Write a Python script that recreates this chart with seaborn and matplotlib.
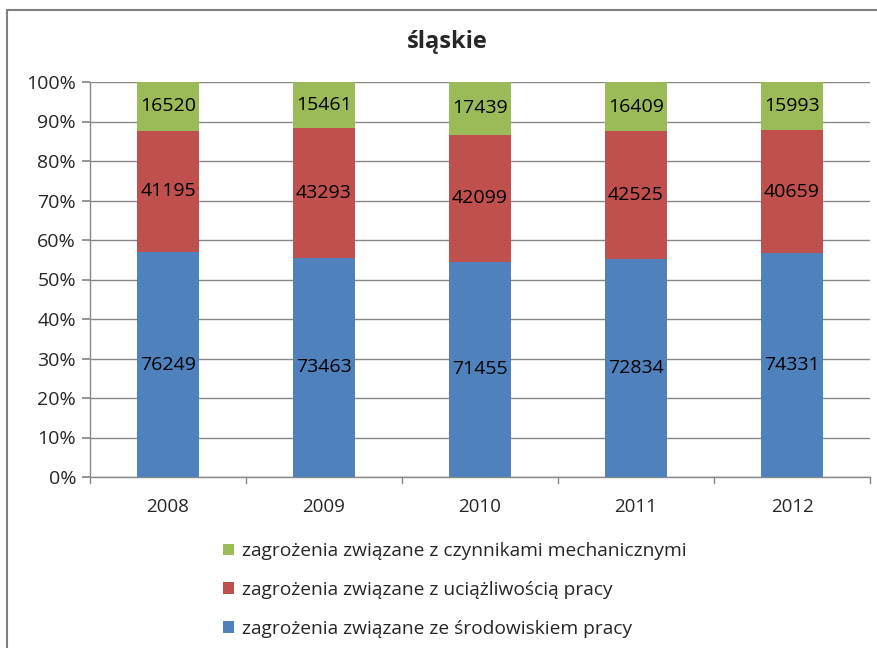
import matplotlib
matplotlib.use("Agg")
import matplotlib.pyplot as plt
import seaborn as sns
import pandas as pd
import numpy as np
from matplotlib.lines import Line2D
from matplotlib.patches import Patch

# Data
years = ["2008", "2009", "2010", "2011", "2012"]
srodowisko = [76249, 73463, 71455, 72834, 74331]
uciazliwosc = [41195, 43293, 42099, 42525, 40659]
mechaniczne = [16520, 15461, 17439, 16409, 15993]

series_names = [
    "zagrożenia związane ze środowiskiem pracy",
    "zagrożenia związane z uciążliwością pracy",
    "zagrożenia związane z czynnikami mechanicznymi",
]
colors = ["#4f81bd", "#c0504d", "#9bbb59"]

sns.set_theme(style="white")
plt.rcParams["font.family"] = ["Open Sans", "DejaVu Sans"]

df = pd.DataFrame({"year": years,
                   series_names[0]: srodowisko,
                   series_names[1]: uciazliwosc,
                   series_names[2]: mechaniczne})
totals = df[series_names].sum(axis=1)
shares = df[series_names].div(totals, axis=0) * 100
cum = shares.cumsum(axis=1)

fig = plt.figure(figsize=(8.78, 6.48), dpi=100)
ax = fig.add_axes([90 / 878, 1 - 477 / 648, 780 / 878, 395 / 648])

# stacked 100% bars: draw cumulative layers from the top down
for name, col in reversed(list(zip(series_names, colors))):
    sns.barplot(x=years, y=cum[name].values, color=col, width=0.4,
                ax=ax, saturation=1)

for p in ax.patches:
    p.set_edgecolor("none")
    p.set_zorder(3)

# data labels centred in each segment
for name in series_names:
    for i in range(len(years)):
        mid = cum[name].iloc[i] - shares[name].iloc[i] / 2
        ax.text(i, mid, str(df[name].iloc[i]), ha="center", va="center",
                fontsize=14, color="black", zorder=10)

ax.set_xlim(-0.5, len(years) - 0.5)
ax.set_ylim(0, 100)
ax.set_yticks(np.arange(0, 101, 10))
ax.set_yticklabels([f"{v}%" for v in range(0, 101, 10)])
ax.yaxis.grid(True, color="#888888", linewidth=1)
ax.set_axisbelow(True)
ax.set_xlabel("")
ax.set_ylabel("")
for s in ["top", "right"]:
    ax.spines[s].set_visible(False)
for s in ["left", "bottom"]:
    ax.spines[s].set_color("#888888")
    ax.spines[s].set_linewidth(1)

ax.tick_params(axis="y", left=True, length=6, color="#888888",
               labelsize=14, pad=4)
ax.tick_params(axis="x", bottom=False, labelsize=13.5, pad=9)
# category separator ticks on x axis
for xb in np.arange(-0.5, len(years), 1.0):
    ax.plot([xb, xb], [0, -1.5], color="#888888", lw=1, clip_on=False)

fig.text(447 / 878, 1 - 42 / 648, "śląskie", ha="center", va="center",
         fontsize=17, fontweight="bold")

handles = [Patch(facecolor=c, edgecolor="none") for c in colors[::-1]]
fig.legend(handles, series_names[::-1], loc="upper left",
           bbox_to_anchor=(206 / 878, 1 - 525 / 648), frameon=False,
           fontsize=13.8, handlelength=0.55, handleheight=0.55,
           handletextpad=0.45, labelspacing=1.08)

# chart frame (cut off on right and bottom)
fig.add_artist(Line2D([7 / 878, 7 / 878], [0, 1 - 10 / 648],
                      transform=fig.transFigure, color="#7f7f7f", lw=1.5))
fig.add_artist(Line2D([7 / 878, 1], [1 - 10 / 648, 1 - 10 / 648],
                      transform=fig.transFigure, color="#7f7f7f", lw=1.5))

fig.savefig("out.png", dpi=100)
